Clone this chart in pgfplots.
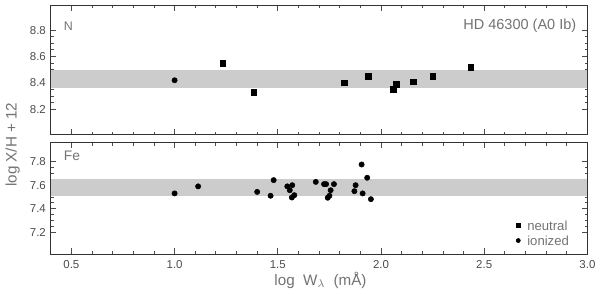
\documentclass[border=0pt]{standalone}
\usepackage{pgfplots}
\pgfplotsset{compat=1.18}
\usepackage{fontspec}
\setmainfont{Liberation Sans}
\definecolor{txt}{gray}{0.45}
\definecolor{band}{gray}{0.80}
\begin{document}
\begin{tikzpicture}
\pgfplotsset{
  panel/.style={
    scale only axis, width=388pt,
    xmin=0.4, xmax=3.0,
    xtick={0.5,1.0,1.5,2.0,2.5,3.0},
    minor x tick num=4,
    minor y tick num=3,
    tick align=inside,
    major tick length=4pt, minor tick length=2pt,
    tick style={black!70, line width=0.6pt},
    axis line style={black!80, line width=0.6pt},
    /pgf/number format/assume math mode=true,
    /pgf/number format/fixed, /pgf/number format/fixed zerofill,
    /pgf/number format/precision=1,
    ticklabel style={font=\fontsize{8.3}{9}\selectfont, text=black!70},
    clip=false,
  }
}
% bottom panel (Fe)
\begin{axis}[panel, name=bot, at={(0,0)}, anchor=south west,
  height=80.3pt, ymin=7.015, ymax=7.96,
  ytick={7.2,7.4,7.6,7.8},
  xticklabel style={yshift=-1pt}]
\addplot[draw=none, fill=band] coordinates {(0.4,7.51) (3.0,7.51) (3.0,7.65) (0.4,7.65)} -- cycle;
\addplot[only marks, mark=*, mark size=1.9pt, black] coordinates {
(1.0,7.53) (1.114,7.59) (1.40,7.543) (1.465,7.51) (1.48,7.643)
(1.546,7.59) (1.558,7.557) (1.57,7.60) (1.568,7.495) (1.58,7.515)
(1.684,7.628) (1.724,7.609) (1.734,7.609) (1.772,7.609) (1.756,7.557)
(1.75,7.51) (1.742,7.493) (1.871,7.549) (1.877,7.60) (1.906,7.776)
(1.911,7.53) (1.933,7.663) (1.951,7.481)};
\node[anchor=north west, text=txt, font=\fontsize{10}{12}\selectfont] at (axis cs:0.44,7.93) {Fe};
\addplot[only marks, mark=square*, mark size=1.5pt, black] coordinates {(2.665,7.256)};
\addplot[only marks, mark=*, mark size=1.5pt, black] coordinates {(2.665,7.129)};
\node[anchor=west, text=txt, font=\fontsize{9.5}{10}\selectfont] at (axis cs:2.685,7.256) {neutral};
\node[anchor=west, text=txt, font=\fontsize{9.5}{10}\selectfont] at (axis cs:2.685,7.129) {ionized};
\end{axis}
% top panel (N)
\begin{axis}[panel, name=top, at={(0,86.4pt)}, anchor=south west,
  height=93.6pt, ymin=8.01, ymax=8.99,
  ytick={8.2,8.4,8.6,8.8},
  xticklabels={}]
\addplot[draw=none, fill=band] coordinates {(0.4,8.363) (3.0,8.363) (3.0,8.50) (0.4,8.50)} -- cycle;
\addplot[only marks, mark=*, mark size=1.9pt, black] coordinates {(1.0,8.42)};
\addplot[only marks, mark=square*, mark size=2pt, black] coordinates {
(1.233,8.55) (1.383,8.33) (1.821,8.40) (1.939,8.45) (2.06,8.35)
(2.073,8.39) (2.157,8.41) (2.25,8.45) (2.435,8.52)};
\node[anchor=north west, text=txt, font=\fontsize{9}{11}\selectfont] at (axis cs:0.44,8.90) {N};
\node[anchor=north east, text=txt, font=\fontsize{10.5}{12}\selectfont] at (axis cs:2.97,8.92) {HD 46300 (A0 Ib)};
\end{axis}
\node[rotate=90, text=txt, font=\fontsize{11}{12}\selectfont] at (-27.5pt,79pt) {log X/H + 12};
\node[text=txt, font=\fontsize{11}{12}\selectfont] at (195pt,-19pt) {log\ \ W$_\lambda$\ \ (mÅ)};
\useasboundingbox (-36.7pt,-26.6pt) rectangle (395.2pt,183.6pt);
\end{tikzpicture}
\end{document}
